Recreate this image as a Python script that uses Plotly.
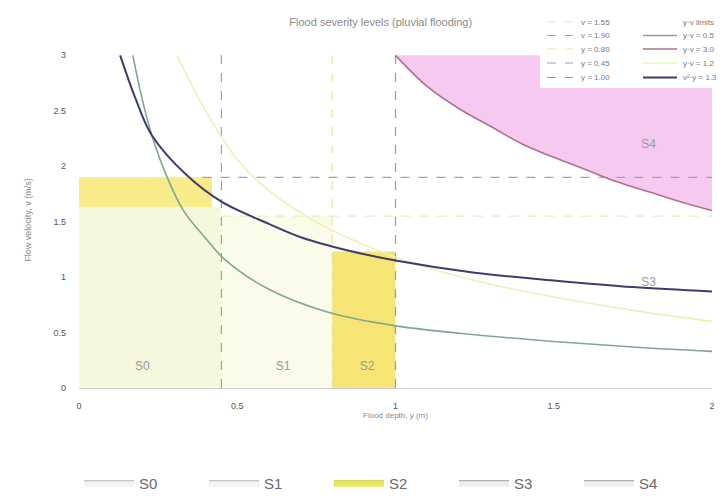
import plotly.graph_objects as go

# ---- data: flood depth y (m) on x, flow velocity v (m/s) on y ----
DARK_X = [0.13, 0.18, 0.23, 0.34, 0.45, 0.60, 0.71, 0.85, 1.00, 1.25, 1.50, 1.75, 2.00]
DARK_Y = [3.00, 2.60, 2.28, 1.92, 1.68, 1.48, 1.35, 1.24, 1.15, 1.04, 0.97, 0.91, 0.87]

GREEN_X = [0.17, 0.20, 0.23, 0.28, 0.33, 0.40, 0.46, 0.60, 0.79, 1.00, 1.25, 1.50, 1.75, 2.00]
GREEN_Y = [3.00, 2.60, 2.28, 1.89, 1.60, 1.35, 1.16, 0.89, 0.68, 0.56, 0.48, 0.42, 0.37, 0.33]

PALE_X = [0.31, 0.40, 0.50, 0.60, 0.70, 0.80, 1.00, 1.25, 1.50, 1.75, 2.00]
PALE_Y = [3.00, 2.50, 2.06, 1.78, 1.58, 1.42, 1.18, 0.97, 0.82, 0.70, 0.60]

PINK_X = [1.0, 1.1, 1.2, 1.3, 1.4, 1.5, 1.6, 1.7, 1.8, 1.9, 2.0]
PINK_Y = [3.00, 2.72, 2.52, 2.36, 2.20, 2.08, 1.97, 1.86, 1.77, 1.68, 1.60]

# depth thresholds (vertical guides) and velocity thresholds (horizontal guides)
DEPTH_LIMITS = [0.45, 0.80, 1.00]
VEL_LIMITS = [1.55, 1.90]
V_MAX = 3.0
Y_MAX = 2.0

# severity zones: [x0, x1], [v0, v1]
S0_X, S0_V = [0.0, 0.45], [0.0, 1.63]
S1_X, S1_V = [0.45, 0.80], [0.0, 1.55]
S2_X, S2_V = [0.80, 1.00], [0.0, 1.23]
S2B_X, S2B_V = [0.0, 0.42], [1.63, 1.90]

ZONES = ["S0", "S1", "S2", "S3", "S4"]
ZONE_LABEL_X = [0.20, 0.645, 0.91, 1.80, 1.80]
ZONE_LABEL_Y = [0.19, 0.19, 0.19, 0.95, 2.19]

X_TICKS = [0, 0.5, 1, 1.5, 2]
X_TICK_TEXT = ["0", "0.5", "1", "1.5", "2"]
Y_TICKS = [0, 0.5, 1, 1.5, 2, 2.5, 3]
Y_TICK_TEXT = ["0", "0.5", "1", "1.5", "2", "2.5", "3"]

# ---- page geometry ----
W, H = 728, 496
M_L, M_R, M_T, M_B = 79, 16, 52, 108
PLOT_W, PLOT_H = W - M_L - M_R, H - M_T - M_B


def paper_x(px):
    return (px - M_L) / PLOT_W


def paper_y(py):
    return (H - M_B - py) / PLOT_H


def rect(xs, vs):
    return ([xs[0], xs[1], xs[1], xs[0], xs[0]],
            [vs[0], vs[0], vs[1], vs[1], vs[0]])


fig = go.Figure()

# ---- zone fills ----
for (xs, vs, col) in [(S0_X, S0_V, "#f6f8dd"), (S1_X, S1_V, "#fafbe9"),
                      (S2_X, S2_V, "#f6e574"), (S2B_X, S2B_V, "#f7eb8a")]:
    px, py = rect(xs, vs)
    fig.add_trace(go.Scatter(x=px, y=py, mode="lines", fill="toself",
                             fillcolor=col, line=dict(width=0),
                             showlegend=False, hoverinfo="skip"))

# S4: area between the top of the chart and the y·v = 3 curve
fig.add_trace(go.Scatter(x=[PINK_X[0], PINK_X[-1]], y=[V_MAX, V_MAX], mode="lines",
                         line=dict(width=0), showlegend=False, hoverinfo="skip"))
fig.add_trace(go.Scatter(x=PINK_X, y=PINK_Y, mode="lines", line_shape="spline",
                         fill="tonexty", fillcolor="#f6c9f1", line=dict(width=0),
                         showlegend=False, hoverinfo="skip"))

# ---- threshold guides: (name, xs, ys, colour) ----
guides = [
    ("v = 1.55", [0.45, Y_MAX], [VEL_LIMITS[0]] * 2, "#e9edb8"),
    ("v = 1.90", [0.39, Y_MAX], [VEL_LIMITS[1]] * 2, "#a3a3a3"),
    ("y = 0.80", [DEPTH_LIMITS[1]] * 2, [0, V_MAX], "#e4e9a2"),
    ("y = 0.45", [DEPTH_LIMITS[0]] * 2, [0, V_MAX], "#a0a0a0"),
    ("y = 1.00", [DEPTH_LIMITS[2]] * 2, [0, V_MAX], "#b98c98"),
]
for name, xs, ys, col in guides:
    fig.add_trace(go.Scatter(x=xs, y=ys, mode="lines", name=name,
                             line=dict(color=col, width=1.2, dash="dash"),
                             showlegend=False))

# ---- hazard curves: (name, xs, ys, colour, width) ----
curves = [
    ("y·v = 0.5", GREEN_X, GREEN_Y, "#82a68e", 1.6),
    ("y·v = 3.0", PINK_X, PINK_Y, "#b2708c", 1.6),
    ("y·v = 1.2", PALE_X, PALE_Y, "#eef1bc", 1.6),
    ("v²·y = 1.3", DARK_X, DARK_Y, "#3f3c6c", 2.0),
]
for name, xs, ys, col, lw in curves:
    fig.add_trace(go.Scatter(x=xs, y=ys, mode="lines", line_shape="spline", name=name,
                             line=dict(color=col, width=lw), showlegend=False))

# ---- zone key below the chart ----
key_style = {"S0": ("#f3f3f3", "#b5b5b5"), "S1": ("#f3f3f3", "#b5b5b5"),
             "S2": ("#e6e85c", "#c9cc4a"), "S3": ("#f0f0f0", "#9a9a9a"),
             "S4": ("#f0f0f0", "#9a9a9a")}
for z in ZONES:
    fc, lc = key_style[z]
    fig.add_trace(go.Scatter(x=[None], y=[None], mode="lines", fill="toself",
                             fillcolor=fc, line=dict(color=lc, width=1.2),
                             name=z, legend="legend3"))

# zone labels inside the chart
fig.add_trace(go.Scatter(x=ZONE_LABEL_X, y=ZONE_LABEL_Y, mode="text", text=ZONES,
                         textfont=dict(size=12, color="#9a9a9a"),
                         showlegend=False, hoverinfo="skip"))

# ---- compact two-column line key (top right) ----
shapes = [dict(type="rect", xref="paper", yref="paper",
               x0=paper_x(540), x1=paper_x(W + 2), y0=paper_y(88), y1=paper_y(-2),
               fillcolor="white", line=dict(width=0), layer="above")]
annotations = []
row_y = [22, 35.5, 49, 63, 77.5]
key_font = dict(size=8, color="#7a7a7a")
left_col = [(n, c, "dash", 1.2) for n, _, _, c in guides]
right_col = [("y·v limits", None, "solid", 0)] + [(n, c, "solid", lw) for n, _, _, c, lw in curves]
for col_items, sx0, sx1, tx in [(left_col, 547, 573, 579), (right_col, 643, 677, 681)]:
    for (name, col, dash, lw), ry in zip(col_items, row_y):
        if col is not None:
            shapes.append(dict(type="line", xref="paper", yref="paper",
                               x0=paper_x(sx0), x1=paper_x(sx1),
                               y0=paper_y(ry), y1=paper_y(ry),
                               line=dict(color=col, width=lw, dash=dash), layer="above"))
        annotations.append(dict(text=name, xref="paper", yref="paper",
                                x=paper_x(tx), y=paper_y(ry), xanchor="left",
                                yanchor="middle", showarrow=False, font=key_font))

fig.update_layout(
    width=W, height=H,
    margin=dict(l=M_L, r=M_R, t=M_T, b=M_B, autoexpand=False),
    paper_bgcolor="white", plot_bgcolor="white",
    font=dict(family="Liberation Sans, Arial, sans-serif", color="#666666"),
    title=dict(text="Flood severity levels (pluvial flooding)",
               x=0.523, xanchor="center", y=0.956, yanchor="middle",
               font=dict(size=11, color="#8a8a8a")),
    xaxis=dict(range=[0, Y_MAX], tickvals=X_TICKS, ticktext=X_TICK_TEXT,
               showgrid=False, zeroline=False, showline=True, linecolor="#d0d0d0",
               ticks="", ticklabelstandoff=9,
               tickfont=dict(size=9, color="#555555"),
               title=dict(text="Flood depth, y (m)", standoff=1,
                          font=dict(size=8, color="#8a8a8a"))),
    yaxis=dict(range=[0, 3.03], tickvals=Y_TICKS, ticktext=Y_TICK_TEXT,
               showgrid=False, zeroline=False, showline=False,
               ticks="", ticklabelstandoff=12,
               tickfont=dict(size=9, color="#555555"),
               title=dict(text="Flow velocity, v (m/s)", standoff=20,
                          font=dict(size=9, color="#8a8a8a"))),
    legend3=dict(orientation="h", x=0.0, xanchor="left", y=paper_y(483), yanchor="middle",
                 itemwidth=50, entrywidth=60, bgcolor="rgba(255,255,255,0)",
                 font=dict(size=15, color="#6a6a6a",
                           family="Liberation Sans Narrow, Liberation Sans, Arial, sans-serif")),
    shapes=shapes,
    annotations=annotations,
)

fig.write_html("out.html")
